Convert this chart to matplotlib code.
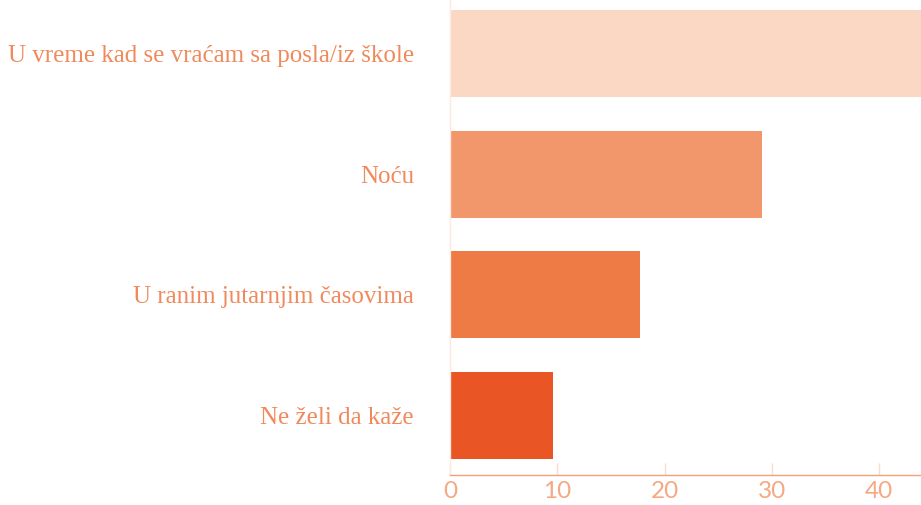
import matplotlib.pyplot as plt

categories = ['U vreme kad se vraćam sa posla/iz škole', 'Noću',
              'U ranim jutarnjim časovima', 'Ne želi da kaže']
values = [45.0, 29.05, 17.7, 9.6]
colors = ['#fbd8c3', '#f2976b', '#ee7a46', '#e95525']
ticks = [0, 10, 20, 30, 40]

fig = plt.figure(figsize=(9.21, 5.05), dpi=100)
ax = fig.add_axes([450 / 921, 30 / 505, 471 / 921, 475 / 505])

ypos = list(range(len(categories)))
ax.barh(ypos, values, height=0.72, color=colors)
ax.set_xlim(0, 43.9)
ax.set_ylim(3.49, -0.44)

ax.set_yticks(ypos)
ax.set_yticklabels(categories, family='Liberation Serif', fontsize=18,
                   color='#f08a5d')
ax.tick_params(axis='y', length=0, pad=26)

ax.set_xticks(ticks)
ax.set_xticklabels([str(t) for t in ticks], family='Lato',
                   fontsize=17.5, color='#f5a882')
ax.tick_params(axis='x', direction='in', length=9, width=1,
               color='#fadccb', pad=4)

for s in ['top', 'right']:
    ax.spines[s].set_visible(False)
ax.spines['bottom'].set_color('#f3a07a')
ax.spines['bottom'].set_linewidth(1)
ax.spines['left'].set_color('#fde9de')
ax.spines['left'].set_linewidth(1)

fig.savefig('out.png', dpi=100)
